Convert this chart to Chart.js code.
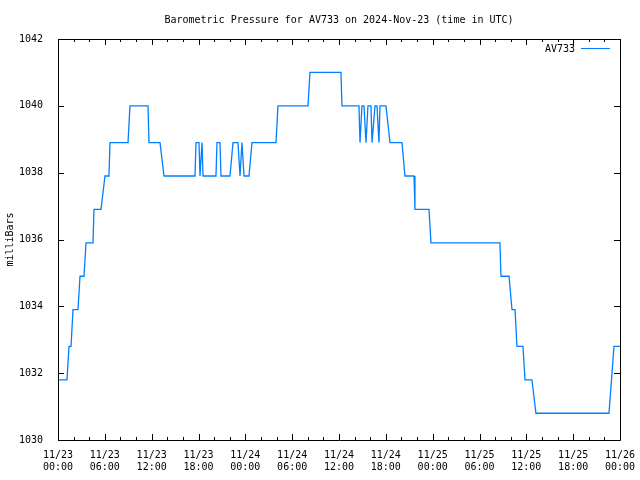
<!DOCTYPE html>
<html>
<head>
<meta charset="utf-8">
<script src="https://cdn.jsdelivr.net/npm/chart.js@4"></script>
<style>
  body { margin: 0; background: #fff; }
  #wrap { width: 640px; height: 480px; }
</style>
</head>
<body>
<div id="wrap"><canvas id="miGrafico" width="640" height="480"></canvas></div>
<script>
const titulo = "Barometric Pressure for AV733 on 2024-Nov-23 (time in UTC)";

// hours since 11/23 00:00 UTC
const horas = [
  0, 1.15, 1.41, 1.67, 1.92, 2.56, 2.82, 3.33, 3.59, 4.48, 4.61, 5.51, 6.02, 6.53, 6.66,
  8.97, 9.22, 11.53, 11.66, 13.07, 13.58, 17.55, 17.68, 18.06, 18.19, 18.45, 18.58,
  20.24, 20.37, 20.75, 20.88, 22.03, 22.42, 23.06, 23.32, 23.57, 23.83, 24.47, 24.85,
  27.93, 28.18, 32.03, 32.28, 36.25, 36.38, 38.56, 38.69, 38.94, 39.2, 39.46, 39.71,
  40.1, 40.23, 40.61, 40.87, 41.12, 41.25, 42.02, 42.53, 44.07, 44.45, 45.61, 45.73,
  47.53, 47.78, 56.62, 56.75, 57.78, 58.16, 58.55, 58.8, 59.57, 59.83, 60.72, 61.23,
  70.59, 71.23, 72
];
const presion = [
  1031.8, 1031.8, 1032.8, 1032.8, 1033.9, 1033.9, 1034.9, 1034.9, 1035.9, 1035.9, 1036.9, 1036.9, 1037.9, 1037.9, 1038.9,
  1038.9, 1040.0, 1040.0, 1038.9, 1038.9, 1037.9, 1037.9, 1038.9, 1038.9, 1037.9, 1038.9, 1037.9,
  1037.9, 1038.9, 1038.9, 1037.9, 1037.9, 1038.9, 1038.9, 1037.9, 1038.9, 1037.9, 1037.9, 1038.9,
  1038.9, 1040.0, 1040.0, 1041.0, 1041.0, 1040.0, 1040.0, 1038.9, 1040.0, 1040.0, 1038.9, 1040.0,
  1040.0, 1038.9, 1040.0, 1040.0, 1038.9, 1040.0, 1040.0, 1038.9, 1038.9, 1037.9, 1037.9, 1036.9,
  1036.9, 1035.9, 1035.9, 1034.9, 1034.9, 1033.9, 1033.9, 1032.8, 1032.8, 1031.8, 1031.8, 1030.8,
  1030.8, 1032.8, 1032.8
];
const etiquetasX = [
  ["11/23", "00:00"], ["11/23", "06:00"], ["11/23", "12:00"], ["11/23", "18:00"],
  ["11/24", "00:00"], ["11/24", "06:00"], ["11/24", "12:00"], ["11/24", "18:00"],
  ["11/25", "00:00"], ["11/25", "06:00"], ["11/25", "12:00"], ["11/25", "18:00"],
  ["11/26", "00:00"]
];
const etiquetasY = ["1030", "1032", "1034", "1036", "1038", "1040", "1042"];

const fuente = { family: "'DejaVu Sans Mono', monospace", size: 10 };

let puntos = [];
for (let i = 0; i < horas.length; i++) {
  puntos.push({ x: horas[i], y: presion[i] });
}

// gnuplot style frame: box plus inward ticks on all sides, title and key
const marco = {
  id: "marco",
  afterDraw(chart) {
    const ctx = chart.ctx;
    const a = chart.chartArea;
    const sx = chart.scales.x;
    const sy = chart.scales.y;
    ctx.save();
    ctx.strokeStyle = "#000";
    ctx.lineWidth = 1;
    ctx.beginPath();
    ctx.rect(Math.round(a.left) + 0.5, Math.round(a.top) + 0.5,
      Math.round(a.right - a.left), Math.round(a.bottom - a.top));
    for (let h = 0; h <= 72; h += 2) {
      const px = Math.round(sx.getPixelForValue(h)) + 0.5;
      const len = h % 6 === 0 ? 6 : 3;
      ctx.moveTo(px, a.bottom);
      ctx.lineTo(px, a.bottom - len);
      ctx.moveTo(px, a.top);
      ctx.lineTo(px, a.top + len);
    }
    for (let v = 1030; v <= 1042; v += 2) {
      const py = Math.round(sy.getPixelForValue(v)) + 0.5;
      ctx.moveTo(a.left, py);
      ctx.lineTo(a.left + 6, py);
      ctx.moveTo(a.right, py);
      ctx.lineTo(a.right - 6, py);
    }
    ctx.stroke();

    ctx.font = "10px 'DejaVu Sans Mono', monospace";
    ctx.fillStyle = "#000";
    ctx.textBaseline = "middle";

    // title centred over the plot area
    ctx.textAlign = "center";
    ctx.fillText(titulo, (a.left + a.right) / 2, 20);

    // legend
    ctx.textAlign = "right";
    ctx.fillText(chart.data.datasets[0].label, 575, 49);
    ctx.strokeStyle = chart.data.datasets[0].borderColor;
    ctx.beginPath();
    ctx.moveTo(581, 48.5);
    ctx.lineTo(610, 48.5);
    ctx.stroke();
    ctx.restore();
  }
};

const ctx = document.getElementById("miGrafico").getContext("2d");
const chart = new Chart(ctx, {
  type: "line",
  data: {
    datasets: [
      {
        label: "AV733",
        data: puntos,
        borderColor: "rgb(0, 128, 255)",
        borderWidth: 1.3,
        pointRadius: 0,
        fill: false,
        tension: 0,
      },
    ],
  },
  options: {
    responsive: false,
    animation: false,
    layout: { padding: { left: 0, right: 20, top: 39, bottom: 0 } },
    plugins: {
      legend: { display: false },
      tooltip: { enabled: false },
      title: { display: false },
    },
    scales: {
      x: {
        type: "linear",
        min: 0,
        max: 72,
        grid: { display: false },
        border: { display: false },
        afterFit: (s) => { s.height = 40; },
        ticks: {
          stepSize: 6,
          color: "#000",
          font: fuente,
          padding: 1,
          maxRotation: 0,
          autoSkip: false,
          callback: (v, i) => etiquetasX[i],
        },
      },
      y: {
        min: 1030,
        max: 1042,
        grid: { display: false },
        border: { display: false },
        afterFit: (s) => { s.width = 58; },
        title: {
          display: true,
          text: "milliBars",
          color: "#000",
          font: fuente,
          padding: { top: 4, bottom: 0 },
        },
        ticks: {
          stepSize: 2,
          color: "#000",
          font: fuente,
          padding: 7,
          callback: (v, i) => etiquetasY[i],
        },
      },
    },
  },
  plugins: [marco],
});
</script>
</body>
</html>
